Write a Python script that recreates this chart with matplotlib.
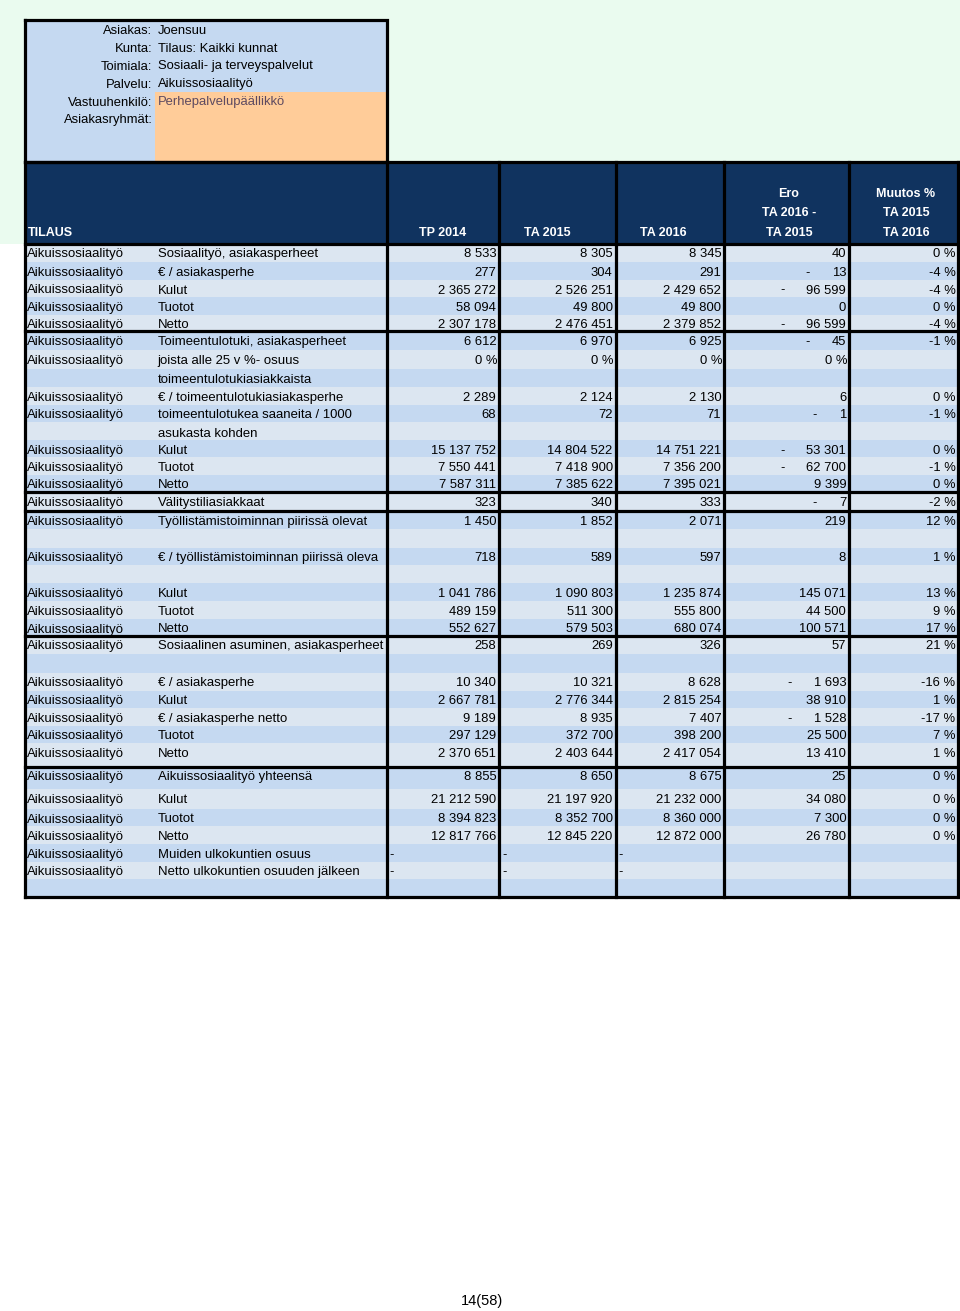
import matplotlib
matplotlib.use("Agg")
import matplotlib.pyplot as plt
from matplotlib.patches import Rectangle

plt.rcParams['font.family'] = ['Liberation Sans', 'DejaVu Sans']

# ---------------- data ----------------
info_labels = ["Asiakas:", "Kunta:", "Toimiala:", "Palvelu:", "Vastuuhenkilö:", "Asiakasryhmät:"]
info_values = ["Joensuu", "Tilaus: Kaikki kunnat", "Sosiaali- ja terveyspalvelut",
               "Aikuissosiaalityö", "Perhepalvelupäällikkö", ""]

first_header = "TILAUS"
col_headers = [["TP 2014"], ["TA 2015"], ["TA 2016"],
               ["Ero", "TA 2016 -", "TA 2015"], ["Muutos %", "TA 2015", "TA 2016"]]

tilaus = "Aikuissosiaalityö"
row_labels = [
    "Sosiaalityö, asiakasperheet",
    "€ / asiakasperhe",
    "Kulut",
    "Tuotot",
    "Netto",
    "Toimeentulotuki, asiakasperheet",
    "joista alle 25 v %- osuus\ntoimeentulotukiasiakkaista",
    "€ / toimeentulotukiasiakasperhe",
    "toimeentulotukea saaneita / 1000\nasukasta kohden",
    "Kulut",
    "Tuotot",
    "Netto",
    "Välitystiliasiakkaat",
    "Työllistämistoiminnan piirissä olevat",
    "€ / työllistämistoiminnan piirissä oleva",
    "Kulut",
    "Tuotot",
    "Netto",
    "Sosiaalinen asuminen, asiakasperheet",
    "€ / asiakasperhe",
    "Kulut",
    "€ / asiakasperhe netto",
    "Tuotot",
    "Netto",
    "Aikuissosiaalityö yhteensä",
    "Kulut",
    "Tuotot",
    "Netto",
    "Muiden ulkokuntien osuus",
    "Netto ulkokuntien osuuden jälkeen",
]
# n = number, p = percentage row, d = dash row
row_kind = ['n'] * 6 + ['p'] + ['n'] * 21 + ['d', 'd']

tp2014 = [8533, 277, 2365272, 58094, 2307178, 6612, 0, 2289, 68, 15137752, 7550441, 7587311,
          323, 1450, 718, 1041786, 489159, 552627, 258, 10340, 2667781, 9189, 297129, 2370651,
          8855, 21212590, 8394823, 12817766, None, None]
ta2015 = [8305, 304, 2526251, 49800, 2476451, 6970, 0, 2124, 72, 14804522, 7418900, 7385622,
          340, 1852, 589, 1090803, 511300, 579503, 269, 10321, 2776344, 8935, 372700, 2403644,
          8650, 21197920, 8352700, 12845220, None, None]
ta2016 = [8345, 291, 2429652, 49800, 2379852, 6925, 0, 2130, 71, 14751221, 7356200, 7395021,
          333, 2071, 597, 1235874, 555800, 680074, 326, 8628, 2815254, 7407, 398200, 2417054,
          8675, 21232000, 8360000, 12872000, None, None]
ero = [40, -13, -96599, 0, -96599, -45, 0, 6, -1, -53301, -62700, 9399,
       -7, 219, 8, 145071, 44500, 100571, 57, -1693, 38910, -1528, 25500, 13410,
       25, 34080, 7300, 26780, None, None]
muutos = [0, -4, -4, 0, -4, -1, None, 0, -1, 0, -1, 0,
          -2, 12, 1, 13, 9, 17, 21, -16, 1, -17, 7, 1,
          0, 0, 0, 0, None, None]
page_label = "14(58)"

# ---------------- layout (pixels) ----------------
W, H = 960, 1311
col_x = [25, 386.5, 499, 615.5, 724, 849, 958]
right_pad = 2.8
row_heights = [18.7, 17.5, 17.3, 17.5, 16.5, 19.4, 36.6, 17.5, 35.5, 17.0, 17.5, 17.5, 19.0,
               36.5, 35.5, 18.0, 17.7, 16.8, 37.0, 18.0, 17.5, 17.5, 17.5, 23.5, 22.5, 19.7,
               17.3, 18.0, 17.7, 35.3]
row_units = [1, 1, 1, 1, 1, 1, 2, 1, 2, 1, 1, 1, 1, 2, 2, 1, 1, 1, 2, 1, 1, 1, 1, 1, 1, 1, 1, 1, 1, 2]
thick_after = [4, 11, 12, 17, 23]
body_top = 243.5
header_top = 162
FS = 9.4
LFS = 9.45
HFS = 9.0
light, dark = '#DCE6F1', '#C5D9F1'
navy = '#10335F'

fig = plt.figure(figsize=(W / 100, H / 100), dpi=100)
ax = fig.add_axes([0, 0, 1, 1])
ax.set_xlim(0, W)
ax.set_ylim(H, 0)
ax.axis('off')

# background green page area
ax.add_patch(Rectangle((0, 0), W, body_top, fc='#EAFBEF', ec='none', zorder=0))

# info box
ax.add_patch(Rectangle((col_x[0], 19.5), col_x[1] - col_x[0], header_top - 19.5,
                       fc='#C5D9F1', ec='none', zorder=1))
ax.add_patch(Rectangle((155, 92), col_x[1] - 155, header_top - 92, fc='#FFCC99', ec='none', zorder=1))
info_y = [30, 47.5, 65, 83, 101, 118.5]
for lab, val, y in zip(info_labels, info_values, info_y):
    ax.text(152.5, y + 4.5, lab, ha='right', va='baseline', fontsize=FS, zorder=3)
    c = '#5E4A60' if lab.startswith("Vastuu") else 'black'
    ax.text(157.5, y + 4.5, val, ha='left', va='baseline', fontsize=FS, color=c, zorder=3)
lw = 2.3
ax.plot([col_x[0], col_x[1], col_x[1], col_x[0], col_x[0]],
        [19.5, 19.5, header_top, header_top, 19.5], color='black', lw=lw, zorder=5,
        solid_joinstyle='miter')

# header
ax.add_patch(Rectangle((col_x[0], header_top), col_x[-1] - col_x[0], body_top - header_top,
                       fc=navy, ec='none', zorder=1))
hy = [192.5, 212, 231]
ax.text(28, hy[2] + 4.5, first_header, ha='left', va='baseline', fontsize=HFS,
        fontweight='bold', color='white', zorder=3)
head_cx = [442.5, 547, 663, 789, 906]
for lines, cx in zip(col_headers, head_cx):
    for ln, y in zip(lines, hy[3 - len(lines):]):
        ax.text(cx, y + 4.5, ln, ha='center', va='baseline', fontsize=HFS,
                fontweight='bold', color='white', zorder=3)

# body rows: stripes
tops = [body_top]
for h in row_heights:
    tops.append(tops[-1] + h)
unit = 0
for i, h in enumerate(row_heights):
    n = row_units[i]
    for k in range(n):
        y0 = tops[i] + h * k / n
        ax.add_patch(Rectangle((col_x[0], y0), col_x[-1] - col_x[0], h / n,
                               fc=light if unit % 2 == 0 else dark, ec='none', zorder=1))
        unit += 1


def fmt(v):
    return f"{abs(v):,}".replace(",", " ")


renderer = fig.canvas.get_renderer()
for i, lab in enumerate(row_labels):
    yb = tops[i] + 9.3 + 4.5
    ax.text(27, yb, tilaus, ha='left', va='baseline', fontsize=LFS, zorder=3)
    for j, ln in enumerate(lab.split("\n")):
        ax.text(157.5, yb + j * 18.8, ln, ha='left', va='baseline', fontsize=LFS, zorder=3)
    kind = row_kind[i]
    cols = [tp2014[i], ta2015[i], ta2016[i]]
    for c, v in enumerate(cols):
        if kind == 'd':
            ax.text(col_x[c + 1] + 3, yb, "-", ha='left', va='baseline', fontsize=FS, zorder=3)
        elif kind == 'p':
            ax.text(col_x[c + 2] - right_pad + 1, yb, f"{v} %", ha='right', va='baseline',
                    fontsize=FS, zorder=3)
        else:
            ax.text(col_x[c + 2] - right_pad, yb, fmt(v), ha='right', va='baseline',
                    fontsize=FS, zorder=3)
    if ero[i] is not None:
        if kind == 'p':
            ax.text(col_x[5] - right_pad + 1, yb, f"{ero[i]} %", ha='right', va='baseline',
                    fontsize=FS, zorder=3)
        else:
            t = ax.text(col_x[5] - right_pad, yb, fmt(ero[i]), ha='right', va='baseline',
                        fontsize=FS, zorder=3)
            if ero[i] < 0:
                bb = t.get_window_extent(renderer=renderer)
                ax.text(bb.x0 - 24, yb, "-", ha='center', va='baseline', fontsize=FS, zorder=3)
    if muutos[i] is not None:
        ax.text(col_x[6] - 2.5, yb, f"{muutos[i]} %", ha='right', va='baseline',
                fontsize=FS, zorder=3)

# grid lines
bottom = tops[-1]
for x in col_x:
    ax.plot([x, x], [header_top, bottom], color='black', lw=lw, zorder=5,
            solid_capstyle='projecting')
ax.plot([col_x[0], col_x[-1]], [header_top, header_top], color='black', lw=lw, zorder=5)
ax.plot([col_x[0], col_x[-1]], [body_top, body_top], color='black', lw=lw, zorder=5)
for k in thick_after:
    ax.plot([col_x[0], col_x[-1]], [tops[k + 1], tops[k + 1]], color='black', lw=lw, zorder=5)
ax.plot([col_x[0], col_x[-1]], [bottom, bottom], color='black', lw=lw, zorder=5,
        solid_capstyle='projecting')

# page number
ax.text(482.5, 1300 + 5, page_label, ha='center', va='baseline', fontsize=10.5, zorder=3)

fig.savefig("out.png", dpi=100)
